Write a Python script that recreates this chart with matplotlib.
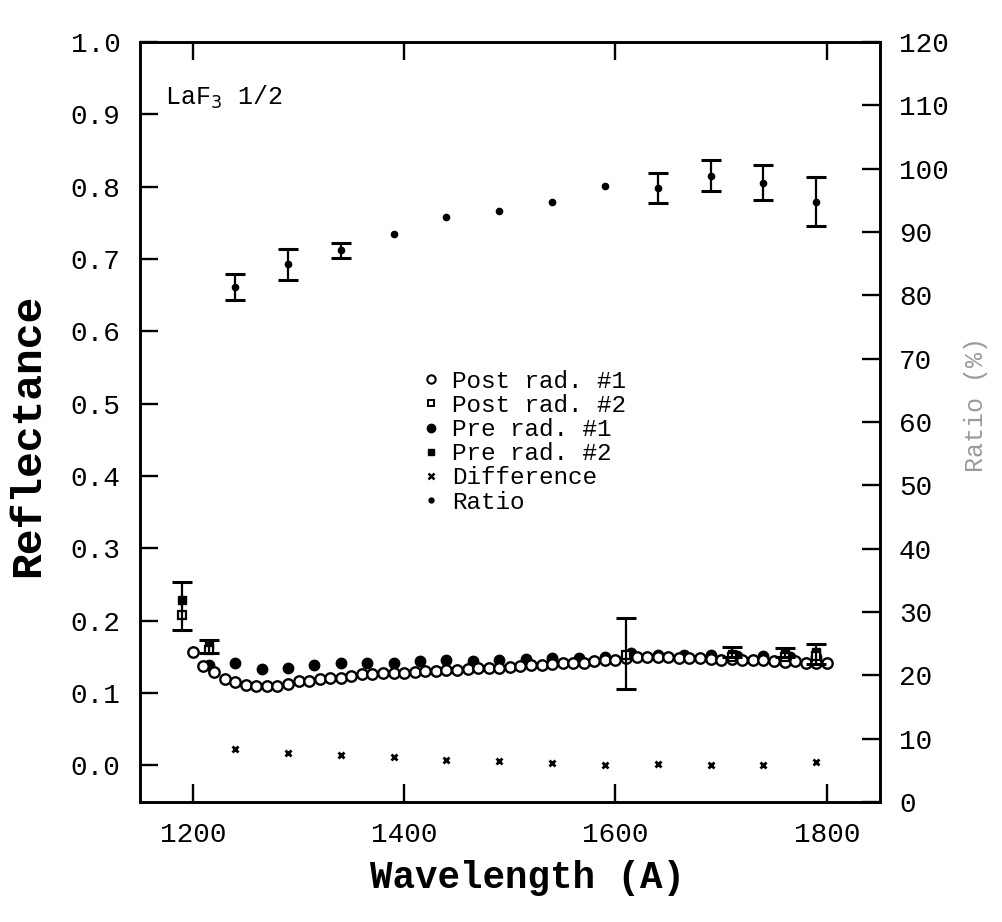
import numpy as np
import matplotlib
matplotlib.use("Agg")
import matplotlib.pyplot as plt
from matplotlib.lines import Line2D

plt.rcParams['font.family'] = ['Liberation Mono', 'DejaVu Sans Mono']

# post rad. #1 (open circles), every 10 A
post1_wl = [1200, 1210, 1220, 1230, 1240, 1250, 1260, 1270, 1280, 1290,
            1300, 1310, 1320, 1330, 1340, 1350, 1360, 1370, 1380, 1390,
            1400, 1410, 1420, 1430, 1440, 1450, 1460, 1470, 1480, 1490,
            1500, 1510, 1520, 1530, 1540, 1550, 1560, 1570, 1580, 1590,
            1600, 1610, 1620, 1630, 1640, 1650, 1660, 1670, 1680, 1690,
            1700, 1710, 1720, 1730, 1740, 1750, 1760, 1770, 1780, 1790, 1800]
post1 = [0.156, 0.137, 0.129, 0.119, 0.115, 0.111, 0.110, 0.110, 0.110, 0.113,
         0.116, 0.117, 0.119, 0.120, 0.121, 0.123, 0.126, 0.126, 0.127, 0.128,
         0.128, 0.129, 0.131, 0.131, 0.132, 0.132, 0.133, 0.135, 0.135, 0.135,
         0.136, 0.137, 0.138, 0.139, 0.140, 0.141, 0.142, 0.142, 0.144, 0.146,
         0.145, 0.148, 0.150, 0.150, 0.149, 0.150, 0.148, 0.148, 0.148, 0.147,
         0.146, 0.147, 0.145, 0.145, 0.145, 0.144, 0.143, 0.144, 0.142, 0.142, 0.141]

# pre rad. #1 (filled circles)
pre1_wl = [1215, 1240, 1265, 1290, 1315, 1340, 1365, 1390, 1415, 1440, 1465, 1490,
           1515, 1540, 1565, 1590, 1615, 1640, 1665, 1690, 1715, 1740, 1765, 1790]
pre1 = [0.139, 0.142, 0.133, 0.135, 0.138, 0.141, 0.142, 0.142, 0.144, 0.145, 0.144, 0.146,
        0.147, 0.148, 0.148, 0.150, 0.155, 0.153, 0.152, 0.152, 0.151, 0.151, 0.150, 0.150]

# #2 samples (only a few visible)
post2_wl = [1190, 1215, 1610, 1710, 1760, 1790]
post2 = [0.208, 0.160, 0.153, 0.150, 0.150, 0.151]
pre2_wl = [1190, 1215, 1710, 1760, 1790]
pre2 = [0.229, 0.166, 0.154, 0.154, 0.156]
err_wl = [1190, 1215, 1610, 1710, 1760, 1790]
err_lo = [0.187, 0.155, 0.106, 0.150, 0.150, 0.140]
err_hi = [0.253, 0.173, 0.203, 0.163, 0.162, 0.167]

# difference and ratio, every 50 A
diff_wl = [1240, 1290, 1340, 1390, 1440, 1490, 1540, 1590, 1640, 1690, 1740, 1790]
diff = [0.023, 0.017, 0.014, 0.011, 0.007, 0.006, 0.003, 0.001, 0.002, 0.000, 0.001, 0.004]
ratio = [81.3, 84.9, 87.1, 89.7, 92.3, 93.4, 94.8, 97.3, 97.0, 98.9, 97.8, 94.8]
ratio_err = [2.1, 2.4, 1.2, 0, 0, 0, 0, 0, 2.4, 2.4, 2.8, 3.9]

fig = plt.figure(figsize=(10.03, 9.22), dpi=100)
ax = fig.add_axes([0.1396, 0.130, 0.7374, 0.8244])
ax2 = ax.twinx()

ax.plot(pre1_wl, pre1, 'o', color='black', ms=7.5, zorder=2)
ax.plot(post1_wl, post1, 'o', mfc='white', mec='black', ms=7.5, mew=1.7, zorder=3)
ax.plot(pre2_wl, pre2, 's', color='black', ms=6, zorder=4)
ax.plot(post2_wl, post2, 's', mfc='white', mec='black', ms=5.5, mew=1.6, zorder=4)
c = (np.array(err_lo) + np.array(err_hi)) / 2
h = (np.array(err_hi) - np.array(err_lo)) / 2
ax.errorbar(err_wl, c, yerr=h, fmt='none', ecolor='black', elinewidth=1.6,
            capsize=7, capthick=2.2, zorder=4)
ax.plot(diff_wl, diff, 'x', color='black', ms=4.5, mew=2)

mask = np.array(ratio_err) > 0
ax2.plot(diff_wl, ratio, 'o', color='black', ms=4.5)
ax2.errorbar(np.array(diff_wl)[mask], np.array(ratio)[mask], yerr=np.array(ratio_err)[mask],
             fmt='none', ecolor='black', elinewidth=1.6, capsize=7, capthick=2.2)

ax.set_xlim(1150, 1850)
ax.set_ylim(-0.051, 1.0)
ax2.set_ylim(0, 120)
ax.set_xticks([1200, 1400, 1600, 1800])
ax.set_yticks(np.arange(0, 1.01, 0.1))
ax.set_yticklabels(['%.1f' % v for v in np.arange(0, 1.01, 0.1)])
ax2.set_yticks(range(0, 121, 10))

ax.tick_params(direction='in', length=13, width=1.7, labelsize=20, pad=14,
               top=True, right=False)
ax.tick_params(axis='x', pad=14)
ax2.tick_params(direction='in', length=13, width=1.7, labelsize=20, pad=14)
for sp in list(ax.spines.values()) + list(ax2.spines.values()):
    sp.set_linewidth(1.9)

ax.text(0.034, 0.945, 'LaF$_3$ 1/2', transform=ax.transAxes, fontsize=18,
        ha='left', va='top')

handles = [
    Line2D([], [], ls='none', marker='o', mfc='white', mec='black', ms=6, mew=1.5),
    Line2D([], [], ls='none', marker='s', mfc='white', mec='black', ms=4.5, mew=1.4),
    Line2D([], [], ls='none', marker='o', color='black', ms=6),
    Line2D([], [], ls='none', marker='s', color='black', ms=5),
    Line2D([], [], ls='none', marker='x', color='black', ms=4.5, mew=1.8),
    Line2D([], [], ls='none', marker='o', color='black', ms=3.5),
]
labels = ['Post rad. #1', 'Post rad. #2', 'Pre rad. #1', 'Pre rad. #2',
          'Difference', 'Ratio']
ax2.legend(handles, labels, loc='upper left', bbox_to_anchor=(0.36, 0.585),
           frameon=False, fontsize=17.5, handlelength=1.0, handletextpad=0.4,
           labelspacing=0.05, borderpad=0)

fig.text(28 / 1003, 1 - 435 / 922, 'Reflectance', rotation=90, ha='center',
         va='center', fontsize=31, fontweight='bold')
fig.text(527 / 1003, 1 - 878 / 922, 'Wavelength (A)', ha='center',
         va='center', fontsize=27, fontweight='bold')
fig.text(976 / 1003, 1 - 405 / 922, 'Ratio (%)', rotation=90, ha='center',
         va='center', fontsize=18, color='#9a9a9a')

fig.savefig('out.png', dpi=100)
